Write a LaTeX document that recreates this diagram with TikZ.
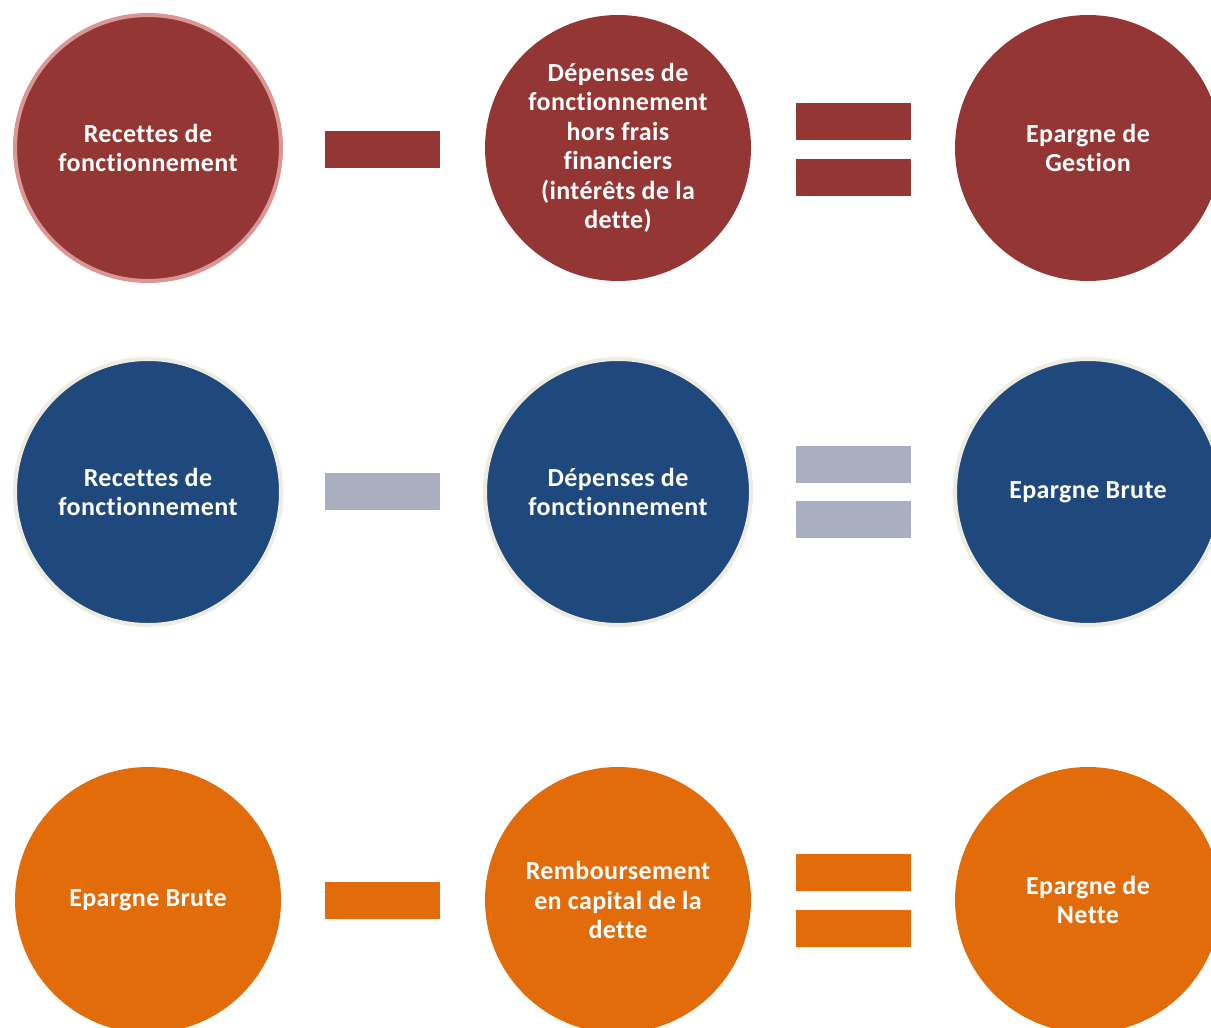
\documentclass[tikz,border=0pt]{standalone}
\usepackage{fontspec}
\setmainfont[Ligatures=NoCommon, LetterSpace=1.5]{Carlito}
\definecolor{cred}{HTML}{943634}
\definecolor{credb}{HTML}{D99694}
\definecolor{cblue}{HTML}{1F497D}
\definecolor{ccream}{HTML}{EEECE1}
\definecolor{corange}{HTML}{E36C0A}
\definecolor{cgrey}{HTML}{A9AFC0}
\tikzset{
  ball/.style={circle, minimum size=266pt, inner sep=0pt, align=center, text=white,
    font=\fontsize{26}{29.5}\selectfont\bfseries},
  bar/.style={minimum width=115pt, minimum height=37pt, inner sep=0pt, draw=none}
}
\begin{document}
\begin{tikzpicture}[x=1pt,y=-1pt]
\useasboundingbox (0,0) rectangle (1211,1028);
\clip (0,0) rectangle (1211,1028);
% row 1
\node[ball, fill=cred, draw=credb, line width=4pt] (r1a) at (148,148) {Recettes de\\fonctionnement};
\node[ball, fill=cred] (r1b) at (618,148) {Dépenses de\\fonctionnement\\hors frais\\financiers\\(intérêts de la\\dette)};
\node[ball, fill=cred] (r1c) at (1088,148) {Epargne de\\Gestion};
\node[bar, fill=cred] (r1m) at (382.5,149.5) {};
\node[bar, fill=cred] (r1e1) at (853.5,121.5) {};
\node[bar, fill=cred] (r1e2) at (853.5,177.5) {};
% row 2
\node[ball, fill=cblue, draw=ccream, line width=4pt] (r2a) at (148,492) {Recettes de\\fonctionnement};
\node[ball, fill=cblue, draw=ccream, line width=4pt] (r2b) at (618,492) {Dépenses de\\fonctionnement};
\node[ball, fill=cblue, draw=ccream, line width=4pt] (r2c) at (1088,492) {Epargne Brute};
\node[bar, fill=cgrey] (r2m) at (382.5,491.5) {};
\node[bar, fill=cgrey] (r2e1) at (853.5,464) {};
\node[bar, fill=cgrey] (r2e2) at (853.5,519.5) {};
% row 3
\node[ball, fill=corange] (r3a) at (148,900) {Epargne Brute};
\node[ball, fill=corange] (r3b) at (618,900) {Remboursement\\en capital de la\\dette};
\node[ball, fill=corange] (r3c) at (1088,900) {Epargne de\\Nette};
\node[bar, fill=corange] (r3m) at (382.5,900) {};
\node[bar, fill=corange] (r3e1) at (853.5,872.5) {};
\node[bar, fill=corange] (r3e2) at (853.5,928.5) {};
\end{tikzpicture}
\end{document}
